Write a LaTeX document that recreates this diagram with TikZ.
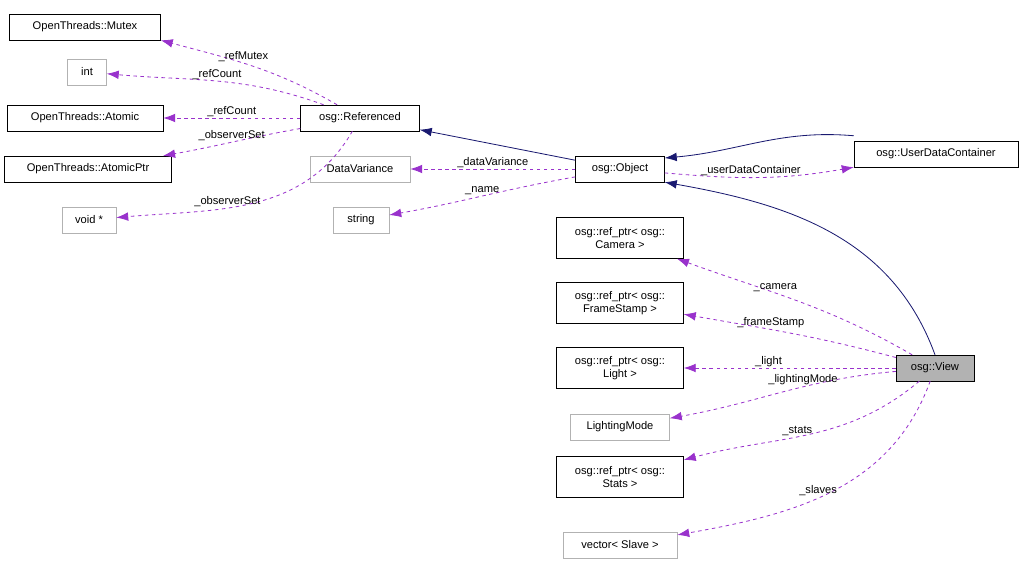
\documentclass[tikz,border=0pt]{standalone}
\usepackage{fontspec}
\setmainfont{Liberation Sans}
\usetikzlibrary{arrows.meta}
\definecolor{memb}{RGB}{153,50,204}
\definecolor{base}{RGB}{25,25,112}
\begin{document}
\begin{tikzpicture}[x=0.03cm,y=-0.03cm,
	every node/.style={font=\fontsize{9.5}{11}\selectfont},
	cls/.style={draw=black,fill=white,inner sep=2pt,minimum height=0.78cm,align=center},
	ext/.style={draw=black!30,fill=white,inner sep=2pt,minimum height=0.78cm},
	inh/.style={draw=base,->,line width=0.7pt,>={Latex[length=3.6mm,width=2.6mm]}},
	use/.style={draw=memb,dashed,->,line width=0.7pt,>={Latex[length=3.6mm,width=2.6mm]}},
	lbl/.style={inner sep=1pt},
]
	\useasboundingbox (0,0) rectangle (1023,564);
	% classes
	\node[cls,minimum width=4.53cm] (mutex) at (85,27) {OpenThreads::Mutex};
	\node[ext,minimum width=1.17cm] (int) at (87,72) {int};
	\node[cls,minimum width=4.68cm] (atomic) at (85,118) {OpenThreads::Atomic};
	\node[cls,minimum width=5.01cm] (atomicptr) at (88,169) {OpenThreads::AtomicPtr};
	\node[ext,minimum width=1.62cm] (voidp) at (89,220) {void *};
	\node[cls,minimum width=3.57cm] (ref) at (360,118) {osg::Referenced};
	\node[ext,minimum width=3.0cm] (dvar) at (360,169) {DataVariance};
	\node[ext,minimum width=1.68cm] (str) at (361,220) {string};
	\node[cls,minimum width=2.67cm] (obj) at (620,169) {osg::Object};
	\node[cls,minimum width=4.92cm] (udc) at (936,154) {osg::UserDataContainer};
	\node[cls,minimum width=3.81cm,minimum height=1.23cm] (cam) at (620,238) {osg::ref\_ptr\textless{} osg::\\Camera \textgreater};
	\node[cls,minimum width=3.81cm,minimum height=1.23cm] (fstamp) at (620,303) {osg::ref\_ptr\textless{} osg::\\FrameStamp \textgreater};
	\node[cls,minimum width=3.81cm,minimum height=1.23cm] (light) at (620,368) {osg::ref\_ptr\textless{} osg::\\Light \textgreater};
	\node[ext,minimum width=2.97cm] (lmode) at (620,427) {LightingMode};
	\node[cls,minimum width=3.81cm,minimum height=1.23cm] (stats) at (620,477) {osg::ref\_ptr\textless{} osg::\\Stats \textgreater};
	\node[ext,minimum width=3.42cm] (slave) at (620,545) {vector\textless{} Slave \textgreater};
	\node[cls,fill=black!30,minimum width=2.34cm] (view) at (935,368) {osg::View};
	% inheritance
	\draw[inh] (obj) -- (ref);
	\draw[inh] (udc.north west) ++(0,-5) coordinate (u1) to[out=175,in=5] (obj.east |- 0,158);
	\draw[inh] (view.north) to[out=110,in=-10] (obj.south east);
	% members
	\draw[use] (ref) to[out=150,in=-15] node[lbl,above,pos=0.55] {\_refMutex} (mutex.south east);
	\draw[use] (ref) to[out=160,in=-5] node[lbl,above,pos=0.5] {\_refCount} (int);
	\draw[use] (ref) -- node[lbl,above] {\_refCount} (atomic);
	\draw[use] (ref) to[out=-170,in=10] node[lbl,above,pos=0.5] {\_observerSet} (atomicptr);
	\draw[use] (ref) to[out=-120,in=5] node[lbl,above,pos=0.6] {\_observerSet} (voidp);
	\draw[use] (obj) -- node[lbl,above] {\_dataVariance} (dvar);
	\draw[use] (obj) to[out=-170,in=10] node[lbl,above,pos=0.5] {\_name} (str);
	\draw[use] (obj) to[out=-5,in=-170] node[lbl,above,pos=0.45] {\_userDataContainer} (udc.south west);
	\draw[use] (view) to[out=150,in=-20] node[lbl,above,pos=0.6] {\_camera} (cam);
	\draw[use] (view) to[out=165,in=-10] node[lbl,above,pos=0.6] {\_frameStamp} (fstamp);
	\draw[use] (view) -- node[lbl,above,pos=0.6] {\_light} (light);
	\draw[use] (view) to[out=-175,in=10] node[lbl,above,pos=0.4] {\_lightingMode} (lmode);
	\draw[use] (view) to[out=-140,in=15] node[lbl,above,pos=0.55] {\_stats} (stats);
	\draw[use] (view) to[out=-110,in=10] node[lbl,above,pos=0.55] {\_slaves} (slave);
\end{tikzpicture}
\end{document}
